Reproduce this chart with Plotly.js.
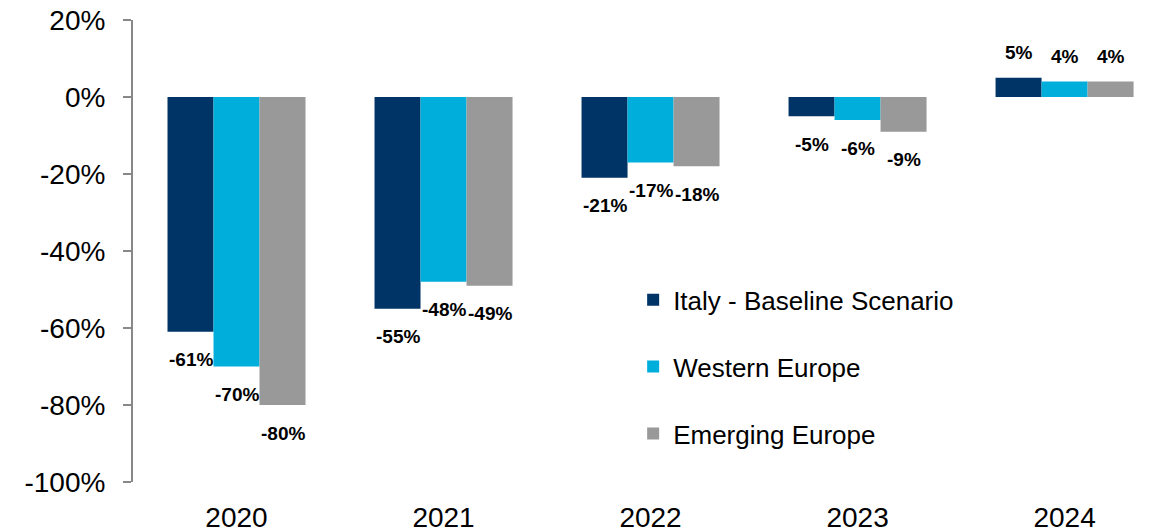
<!DOCTYPE html>
<html>
<head>
<meta charset="utf-8">
<script src="https://cdn.plot.ly/plotly-3.0.1.min.js"></script>
<style>
  html, body { margin: 0; padding: 0; background: #fff; }
  #chart { width: 1160px; height: 532px; }
</style>
</head>
<body>
<div id="chart"></div>
<script>
const years = ['2020', '2021', '2022', '2023', '2024'];
const seriesNames = ['Italy - Baseline Scenario', 'Western Europe', 'Emerging Europe'];
const italy = [-61, -55, -21, -5, 5];
const westernEurope = [-70, -48, -17, -6, 4];
const emergingEurope = [-80, -49, -18, -9, 4];
const yTicks = [-100, -80, -60, -40, -20, 0, 20];
const yTickLabels = yTicks.map(v => v + '%');

const colors = ['#003366', '#00AEDB', '#999999'];
const allSeries = [italy, westernEurope, emergingEurope];
const FONT = 'Arial, "Liberation Sans", sans-serif';

const bargap = 1 / 3;
const barWidth = (1 - bargap) / allSeries.length;

const traces = allSeries.map((vals, i) => ({
  type: 'bar',
  x: years,
  y: vals,
  name: seriesNames[i],
  legendgroup: 'g' + i,
  marker: { color: colors[i], line: { width: 0 } },
  hoverinfo: 'skip'
}));

// data labels, placed at the end of each bar
const annotations = [];
allSeries.forEach((vals, i) => {
  const offset = (i - (allSeries.length - 1) / 2) * barWidth;
  vals.forEach((v, k) => {
    annotations.push({
      xref: 'x', yref: 'y',
      x: k + offset, y: v,
      text: '<b>' + v + '%</b>',
      showarrow: false,
      yanchor: 'middle',
      yshift: v < 0 ? -28 : 25,
      font: { family: FONT, size: 19, color: '#000' }
    });
  });
});

const layout = {
  width: 1160,
  height: 532,
  margin: { l: 133, r: 0, t: 20, b: 50 },
  paper_bgcolor: '#fff',
  plot_bgcolor: '#fff',
  font: { family: FONT, color: '#000' },
  barmode: 'group',
  bargap: bargap,
  bargroupgap: 0,
  showlegend: true,
  legend: {
    x: 0.487, xanchor: 'left',
    y: 0.445, yanchor: 'top',
    font: { family: FONT, size: 26, color: '#000' },
    bgcolor: 'rgba(0,0,0,0)',
    traceorder: 'grouped',
    tracegroupgap: 30
  },
  xaxis: {
    type: 'category',
    range: [-0.5, 4.461],
    showline: false,
    showgrid: false,
    zeroline: false,
    ticks: '',
    tickfont: { family: FONT, size: 28, color: '#000' },
    ticklabelstandoff: 16,
    fixedrange: true
  },
  xaxis2: {
    overlaying: 'x',
    anchor: 'free',
    position: 100 / 120,
    range: [-0.5, 4.461],
    showline: true,
    linecolor: '#888888',
    linewidth: 2,
    showgrid: false,
    zeroline: false,
    tickmode: 'array',
    tickvals: [0.5, 1.5, 2.5, 3.5],
    ticks: 'inside',
    ticklen: 7,
    tickwidth: 2,
    tickcolor: '#888888',
    showticklabels: false,
    fixedrange: true
  },
  yaxis: {
    range: [-100, 20],
    tickmode: 'array',
    tickvals: yTicks,
    ticktext: yTickLabels,
    showline: true,
    linecolor: '#888888',
    linewidth: 2,
    ticks: 'outside',
    ticklen: 8,
    tickwidth: 2,
    tickcolor: '#888888',
    showgrid: false,
    zeroline: false,
    tickfont: { family: FONT, size: 28, color: '#000' },
    ticklabelstandoff: 12,
    fixedrange: true
  },
  annotations: annotations,
  hovermode: false
};

Plotly.newPlot('chart', traces, layout, { displayModeBar: false, staticPlot: true });
</script>
</body>
</html>
